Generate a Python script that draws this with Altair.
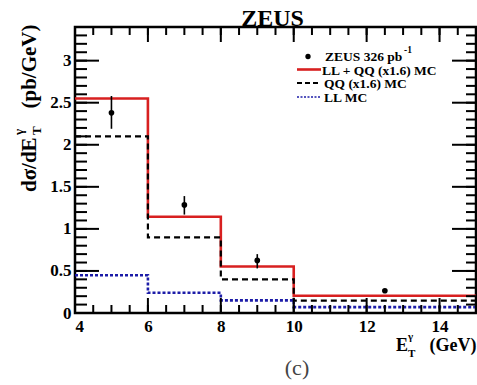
import altair as alt
import numpy as np
import pandas as pd

# Histogram bin edges (GeV) and bin heights (pb/GeV)
edges = [4, 6, 8, 10, 15]
ll_qq_mc = [2.55, 1.145, 0.553, 0.205]
qq_mc = [2.10, 0.90, 0.40, 0.148]
ll_mc = [0.448, 0.24, 0.15, 0.07]

# Measured cross section with statistical errors
data_x = [5, 7, 9, 12.5]
data_y = [2.38, 1.285, 0.625, 0.265]
data_lo = [2.19, 1.17, 0.53, 0.245]
data_hi = [2.58, 1.39, 0.70, 0.285]

x_labels = [4, 6, 8, 10, 12, 14]
y_labels = [0, 0.5, 1, 1.5, 2, 2.5, 3]

W, H = 401, 286
SERIF = "Liberation Serif, Times New Roman, serif"

xs = alt.Scale(domain=[4, 15], nice=False, zero=False)
ys = alt.Scale(domain=[0, 3.4], nice=False, zero=False)

# One shared axis definition per direction, used by every data layer
XA = alt.Axis(values=x_labels, ticks=False, domain=False, grid=False,
              labelFont=SERIF, labelFontSize=17, labelFontWeight="bold",
              labelColor="black", labelPadding=5, title=None)
YA = alt.Axis(values=y_labels, format="~g", ticks=False, domain=False,
              grid=False, labelFont=SERIF, labelFontSize=17,
              labelFontWeight="bold", labelColor="black",
              labelPadding=4, title=None)


def X(field):
    return alt.X(field, scale=xs, axis=XA)


def Y(field):
    return alt.Y(field, scale=ys, axis=YA)


def step_frame(vals):
    return pd.DataFrame({"x": edges, "y": vals + [vals[-1]]})


def hist(vals, color, width, dash=None):
    kw = dict(interpolate="step-after", color=color, strokeWidth=width, clip=True)
    if dash:
        kw["strokeDash"] = dash
    return alt.Chart(step_frame(vals)).mark_line(**kw).encode(
        x=X("x:Q"), y=Y("y:Q"))


red = hist(ll_qq_mc, "#d82020", 2.6)
black = hist(qq_mc, "black", 2.2, dash=[6, 4])
blue = hist(ll_mc, "#1c1ca8", 2.6, dash=[3, 2])

pts = pd.DataFrame({"x": data_x, "y": data_y, "lo": data_lo, "hi": data_hi})
err = alt.Chart(pts).mark_rule(color="black", strokeWidth=1.6).encode(
    x=X("x:Q"), y=Y("lo:Q"), y2="hi:Q")
dots = alt.Chart(pts).mark_circle(color="black", size=32, opacity=1).encode(
    x=X("x:Q"), y=Y("y:Q"))

# Inward-pointing frame ticks on all four sides
x_major = np.arange(4, 15.01, 2.0)
x_minor = np.arange(4, 15.01, 0.5)
y_major = np.arange(0, 3.41, 0.5)
y_minor = np.arange(0, 3.41, 0.1)


def xticks(vals, y0, y1):
    return alt.Chart(pd.DataFrame({"x": vals})).mark_rule(
        color="black", strokeWidth=2).encode(
        x=X("x:Q"), y=alt.value(y0), y2=alt.value(y1))


def yticks(vals, x0, x1):
    return alt.Chart(pd.DataFrame({"y": vals})).mark_rule(
        color="black", strokeWidth=2).encode(
        y=Y("y:Q"), x=alt.value(x0), x2=alt.value(x1))


ticks = [
    xticks(x_major, H, H - 15), xticks(x_minor, H, H - 8),
    xticks(x_major, 0, 15), xticks(x_minor, 0, 8),
    yticks(y_major, 0, 24), yticks(y_minor, 0, 12),
    yticks(y_major, W, W - 24), yticks(y_minor, W, W - 10),
]

one = pd.DataFrame({"k": [0]})


def label(text, x, y, size, weight="bold", align="left", baseline="alphabetic",
          angle=0, color="black"):
    return alt.Chart(one).mark_text(
        font=SERIF, fontSize=size, fontWeight=weight, align=align,
        baseline=baseline, angle=angle, color=color).encode(
        x=alt.value(x), y=alt.value(y), text=alt.value(text))


def key_line(y, color, width, dash=None):
    kw = dict(color=color, strokeWidth=width)
    if dash:
        kw["strokeDash"] = dash
    return alt.Chart(one).mark_rule(**kw).encode(
        x=alt.value(222), x2=alt.value(246), y=alt.value(y))


legend = [
    alt.Chart(one).mark_circle(color="black", size=28, opacity=1).encode(
        x=alt.value(233), y=alt.value(29.5)),
    label("ZEUS 326 pb", 250, 34, 13.5),
    label("-1", 329, 25.5, 9.5),
    key_line(42.5, "#d82020", 2.6),
    label("LL + QQ (x1.6) MC", 247, 47.5, 13.5),
    key_line(56, "black", 2.2, [5, 3]),
    label("QQ (x1.6) MC", 249, 61, 13.5),
    key_line(70, "#1c1ca8", 1.6, [2, 1.5]),
    label("LL MC", 249, 74.5, 13.5),
]

texts = [
    label("ZEUS", 197.5, -1.5, 24, align="center"),
    label("(c)", 222, 341, 22, weight="normal", align="center",
          baseline="middle", color="#444444"),
    # x-axis title E_T^gamma (GeV)
    label("E", 321, 324, 18),
    label("γ", 333, 313, 11),
    label("T", 333, 330, 11),
    label("(GeV)", 401.5, 324, 18, align="right"),
    # y-axis title dsigma/dE_T^gamma (pb/GeV), reading upwards
    label("dσ/dE", -39, 165, 21, angle=270),
    label("γ", -52, 108, 13, angle=270),
    label("T", -34, 108, 13, angle=270),
    label("(pb/GeV)", -39, -2.5, 21, align="right", angle=270),
]

chart = alt.layer(red, black, blue, err, dots, *ticks, *legend, *texts).properties(
    width=W, height=H,
    autosize=alt.AutoSizeParams(type="none"),
    padding={"left": 75, "top": 27, "right": 1, "bottom": 72},
    background="white",
).configure_view(stroke="black", strokeWidth=2.5)

chart.save("out.html", embed_options={"renderer": "svg", "actions": False})
